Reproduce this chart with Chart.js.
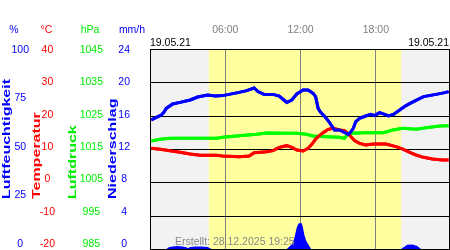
<!DOCTYPE html>
<html>
<head>
<meta charset="utf-8">
<script src="https://cdn.jsdelivr.net/npm/chart.js@4.4.0/dist/chart.umd.min.js"></script>
<style>
  html, body { margin: 0; padding: 0; background: #fff; }
  #wrap { width: 450px; height: 250px; }
</style>
</head>
<body>
<div id="wrap"><canvas id="chart"></canvas></div>
<script>
// x axis is hours since midnight
const X_MAX = 23.83;
const TIME_TICKS = [6, 12, 18];
const TIME_LABELS = ["06:00", "12:00", "18:00"];
const DATE_LABEL = "19.05.21";
const DAYLIGHT = [4.69, 20.02];
const CREATED = "Erstellt: 28.12.2025 19:25";

const HUM_TICKS = [0, 25, 50, 75, 100];
const TEMP_TICKS = [-20, -10, 0, 10, 20, 30, 40];
const PRES_TICKS = [985, 995, 1005, 1015, 1025, 1035, 1045];
const RAIN_TICKS = [0, 4, 8, 12, 16, 20, 24];

const humHours = [0.1, 0.5, 0.9, 1.1, 1.3, 1.8, 2.4, 3.2, 3.8, 4.6, 5.2, 5.8, 6.3, 7.1, 7.7, 8.3, 8.6, 9.1, 9.8, 10.3,
  10.9, 11.3, 11.7, 12.2, 12.6, 13.0, 13.2, 13.4, 13.6, 13.9, 14.3, 14.7, 15.1, 15.5, 15.8, 16.0, 16.2, 16.4, 16.7,
  17.2, 17.6, 17.9, 18.3, 18.7, 19.0, 19.4, 19.9, 20.4, 21.0, 21.8, 22.8, 23.5, 23.8];
const humValues = [64.5, 65.8, 67, 68.3, 70.3, 72.5, 73.3, 74.5, 76, 77, 76.5, 76.7, 77.3, 78.3, 79.2, 80.5, 78.7, 77.3, 77.3, 76.5,
  73.3, 74.5, 77.5, 79.5, 79.5, 77.8, 76.2, 70.3, 68.3, 66.5, 63.3, 59.5, 59.5, 58.3, 57.3, 58.5, 60.3, 63.7, 65.3,
  66.5, 67.3, 66.7, 68.2, 67.3, 66.5, 67.3, 69.5, 71.7, 73.7, 76.2, 77.3, 78.2, 78.7];

const tempHours = [0.1, 0.8, 1.6, 2.4, 3.2, 4.0, 5.3, 5.8, 7.1, 7.9, 8.3, 9.3, 9.8, 10.3, 10.9, 11.3, 11.7, 12.2, 12.6,
  12.9, 13.25, 13.8, 14.2, 14.6, 15.1, 15.5, 15.9, 16.3, 16.7, 17.2, 17.8, 18.8, 19.6, 20.2, 20.7, 21.2, 21.8, 22.5, 23.3, 23.8];
const tempValues = [10.2, 9.9, 9.5, 9.0, 8.5, 8.1, 8.1, 7.9, 7.7, 7.9, 8.9, 9.2, 9.5, 10.5, 11.0, 10.5, 9.7, 9.4, 10.2,
  11.4, 13.2, 14.9, 15.9, 16.2, 15.7, 15.5, 14.2, 12.5, 11.7, 11.2, 11.5, 11.5, 10.7, 9.9, 9.0, 8.2, 7.5, 7.0, 6.7, 6.7];

const presHours = [0.1, 0.8, 1.6, 5.3, 5.8, 7.1, 8.5, 9.3, 10.9, 11.7, 12.45, 13.0, 14.05, 15.1, 15.5, 15.8, 17.2, 18.6,
  19.35, 20.15, 21.2, 22.0, 23.1, 23.8];
const presValues = [1017.4, 1017.9, 1018.2, 1018.2, 1018.5, 1019.0, 1019.4, 1019.8, 1019.7, 1019.7, 1019.4, 1018.9, 1018.7,
  1018.5, 1018.2, 1019.7, 1019.9, 1019.9, 1020.7, 1021.2, 1020.9, 1021.4, 1021.9, 1022.0];

const rainHours = [0, 1.3, 1.5, 1.8, 2.2, 2.6, 2.9, 3.0, 3.2, 3.6, 4.1, 4.6, 4.9,
  10.9, 11.1, 11.3, 11.5, 11.7, 11.85, 12.1, 12.2, 12.3, 12.45, 12.6, 12.85,
  20.0, 20.3, 20.5, 20.9, 21.3, 21.6, 23.83];
const rainValues = [0, 0, 0.2, 0.3, 0.35, 0.3, 0.2, 0.1, 0.25, 0.3, 0.3, 0.25, 0,
  0, 0.3, 0.5, 1.3, 2.6, 3.1, 3.1, 2.5, 1.7, 1.0, 0.6, 0,
  0, 0.3, 0.5, 0.55, 0.35, 0, 0];

const BLUE = "#0000ff";
const RED = "#ff0000";
const GREEN = "#00ee00";

Chart.defaults.font.family = "'Liberation Sans', Arial, sans-serif";
Chart.defaults.font.size = 10.5;

function points(hours, values) {
  return hours.map((h, i) => ({ x: h, y: values[i] }));
}

// the printed tick labels sit on a band from y=50 to y=244, a bit inside the plot
function labelAxis(ticks, color, weight, width, pad) {
  const lo = ticks[0], hi = ticks[ticks.length - 1], span = hi - lo;
  return {
    position: "left",
    weight: weight,
    min: lo - span * 5 / 194,
    max: hi + span * 1 / 194,
    grid: { display: false, drawTicks: false },
    border: { display: false },
    ticks: { color: color, padding: pad, crossAlign: "center", autoSkip: false, callback: v => String(v) },
    afterBuildTicks: s => { s.ticks = ticks.map(v => ({ value: v })); },
    afterFit: s => { s.width = width; s.paddingTop = 0; s.paddingBottom = 0; }
  };
}

function dataAxis(ticks) {
  return { display: false, position: "right", min: ticks[0], max: ticks[ticks.length - 1] };
}

const decor = {
  id: "decor",
  beforeDraw(chart) {
    const { ctx, chartArea: a, scales } = chart;
    ctx.save();
    ctx.fillStyle = "#f2f2f2";
    ctx.fillRect(a.left, a.top, a.width, a.height);
    const x0 = scales.x.getPixelForValue(DAYLIGHT[0]);
    const x1 = scales.x.getPixelForValue(DAYLIGHT[1]);
    ctx.fillStyle = "#ffffa0";
    ctx.fillRect(x0, a.top, x1 - x0, a.height);
    ctx.restore();
  },
  afterDraw(chart) {
    const { ctx, chartArea: a, scales } = chart;
    ctx.save();
    // black horizontal grid on the temperature steps
    ctx.fillStyle = "#000000";
    TEMP_TICKS.forEach(v => {
      const y = Math.round(scales.yT.getPixelForValue(v));
      ctx.fillRect(a.left, y, a.width, 1);
    });
    // put the curves back on top of the grid
    ctx.save();
    ctx.beginPath();
    ctx.rect(a.left, a.top, a.width, a.height);
    ctx.clip();
    chart.getSortedVisibleDatasetMetas().slice().reverse().forEach(m => {
      if (m.type === "line" && !m.controller.getDataset().fill) m.controller.draw();
    });
    ctx.restore();

    ctx.strokeStyle = "#000";
    ctx.lineWidth = 1;
    ctx.strokeRect(a.left + 0.5, a.top + 0.5, a.width, a.height);

    // unit headers
    ctx.font = "10.5px 'Liberation Sans', Arial, sans-serif";
    ctx.textAlign = "center";
    ctx.textBaseline = "middle";
    [["%", BLUE, 14], ["\u00b0C", RED, 46.5], ["hPa", GREEN, 90], ["mm/h", BLUE, 132]].forEach(([t, c, x]) => {
      ctx.fillStyle = c;
      ctx.fillText(t, x, 30);
    });

    // stretched vertical titles
    ctx.font = "bold 10px 'Liberation Sans', Arial, sans-serif";
    ctx.textAlign = "left";
    ctx.textBaseline = "alphabetic";
    [["Luftfeuchtigkeit", BLUE, 9.5], ["Temperatur", RED, 39.5], ["Luftdruck", GREEN, 75.5], ["Niederschlag", BLUE, 115.5]]
      .forEach(([t, c, x]) => {
        ctx.save();
        ctx.translate(x, 199);
        ctx.rotate(-Math.PI / 2);
        ctx.scale(1.6, 1);
        ctx.fillStyle = c;
        ctx.fillText(t, 0, 0);
        ctx.restore();
      });

    ctx.font = "10.5px 'Liberation Sans', Arial, sans-serif";
    ctx.fillStyle = "#888";
    ctx.fillText(CREATED, 175, 245);
    ctx.restore();
  }
};

new Chart(document.getElementById("chart"), {
  type: "line",
  data: {
    datasets: [
      { label: "Luftfeuchtigkeit", data: points(humHours, humValues), yAxisID: "yH",
        borderColor: BLUE, borderWidth: 3, pointRadius: 0, tension: 0 },
      { label: "Temperatur", data: points(tempHours, tempValues), yAxisID: "yT",
        borderColor: RED, borderWidth: 3, pointRadius: 0, tension: 0 },
      { label: "Luftdruck", data: points(presHours, presValues), yAxisID: "yP",
        borderColor: "#00ff00", borderWidth: 3, pointRadius: 0, tension: 0 },
      { label: "Niederschlag", data: points(rainHours, rainValues), yAxisID: "yR",
        borderWidth: 0, backgroundColor: BLUE, fill: "origin", pointRadius: 0, tension: 0 }
    ]
  },
  options: {
    responsive: true,
    maintainAspectRatio: false,
    animation: false,
    layout: { autoPadding: false, padding: { left: 0, right: 1, top: 0, bottom: 1 } },
    plugins: { legend: { display: false }, tooltip: { enabled: false } },
    scales: {
      x: {
        type: "linear", position: "top", weight: 2, min: 0, max: X_MAX,
        grid: { color: "#808080", drawTicks: false },
        border: { display: false },
        ticks: { color: "#808080", padding: 1, callback: (v, i) => TIME_LABELS[i] },
        afterBuildTicks: s => { s.ticks = TIME_TICKS.map(v => ({ value: v })); },
        afterFit: s => { s.height = 37; s.paddingLeft = 0; s.paddingRight = 0; }
      },
      xd: {
        type: "linear", position: "top", weight: 1, min: 0, max: X_MAX,
        grid: { display: false, drawTicks: false },
        border: { display: false },
        ticks: { color: "#000", padding: 0, align: "inner", callback: () => DATE_LABEL },
        afterBuildTicks: s => { s.ticks = [{ value: 0 }, { value: X_MAX }]; },
        afterFit: s => { s.height = 12; s.paddingLeft = 0; s.paddingRight = 0; }
      },
      lh: labelAxis(HUM_TICKS, BLUE, 4, 33, 4),
      lt: labelAxis(TEMP_TICKS, RED, 3, 25, 3),
      lp: labelAxis(PRES_TICKS, GREEN, 2, 48, 3),
      lr: labelAxis(RAIN_TICKS, BLUE, 1, 44, 20),
      yH: dataAxis(HUM_TICKS),
      yT: dataAxis(TEMP_TICKS),
      yP: dataAxis(PRES_TICKS),
      yR: dataAxis(RAIN_TICKS)
    }
  },
  plugins: [decor]
});
</script>
</body>
</html>
